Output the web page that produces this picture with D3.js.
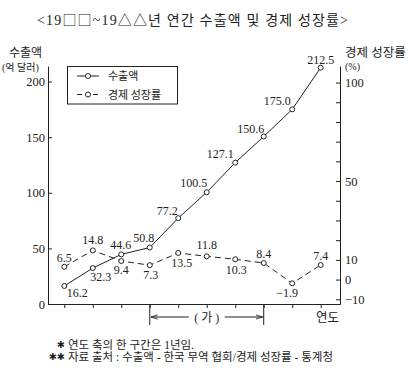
<!DOCTYPE html>
<html>
<head>
<meta charset="utf-8">
<script src="https://cdn.jsdelivr.net/npm/d3@7"></script>
<style>
  body { margin: 0; background: #fff; }
  svg { display: block; font-family: "Liberation Serif", "Noto Sans CJK KR", serif; }
</style>
</head>
<body>
<svg id="chart" width="417" height="371"></svg>
<script>
// data
var periods = [0, 1, 2, 3, 4, 5, 6, 7, 8, 9];
var exportsAmt = [16.2, 32.3, 44.6, 50.8, 77.2, 100.5, 127.1, 150.6, 175.0, 212.5];
var growth = [6.5, 14.8, 9.4, 7.3, 13.5, 11.8, 10.3, 8.4, -1.9, 7.4];
var leftTicks = [0, 50, 100, 150, 200];
var rightTicks = [-10, 0, 10, 20, 30, 40, 50, 60, 70, 80, 90, 100];
var rightLabeled = [-10, 0, 10, 50, 100];
var bracket = [3, 7];

// where each value label sits relative to its point
var exportOffsets = [[13, 11], [8, 13], [-0.5, -5.5], [-6, -6], [-11, -3.5], [-13, -5], [-15, -5], [-13, -4], [-15, -4], [0, -4]];
var growthOffsets = [[0, -5], [0, -6], [0, 13], [1, 14], [3.5, 13.6], [0, -7], [1, 15], [0, -5], [-5, 14], [0, -5]];

var ink = "#222";
var cjk = "Noto Sans CJK KR, sans-serif";
var svg = d3.select("#chart");
var fmt = d3.format(".1f");

var x = d3.scaleLinear().domain([-0.572, 9.678]).range([48, 340]);
var yL = d3.scaleLinear().domain([0, 214]).range([304, 66]);
var yR = d3.scaleLinear().domain([-12.4, 108.4]).range([304, 66]);

// title
var title = svg.append("text").attr("x", 37).attr("y", 25)
  .attr("textLength", 311).attr("lengthAdjust", "spacing")
  .style("font-size", "14px").attr("fill", ink);
[["<19", null], ["□□", cjk], ["~19", null], ["△△", cjk], ["년 연간 수출액 및 경제 성장률", null], [">", null]]
  .forEach(function(p){
    var t = title.append("tspan").text(p[0]);
    if (p[1]) t.style("font-family", p[1]);
  });

// axis titles
svg.append("text").attr("x", 9).attr("y", 57).style("font-size", "12px").attr("fill", ink).text("수출액");
svg.append("text").attr("x", 2).attr("y", 70.5).style("font-size", "10px").attr("fill", ink).text("(억 달러)");
svg.append("text").attr("x", 345).attr("y", 56.5).style("font-size", "12.5px").attr("fill", ink).text("경제 성장률");
svg.append("text").attr("x", 345).attr("y", 70).style("font-size", "10px").attr("fill", ink).text("(%)");

// axes
var gl = svg.append("g").attr("transform", "translate(48,0)")
  .call(d3.axisLeft(yL).tickValues(leftTicks).tickSize(-4).tickSizeOuter(0).tickPadding(3));
var gr = svg.append("g").attr("transform", "translate(340,0)")
  .call(d3.axisRight(yR).tickValues(rightTicks).tickSize(-4).tickSizeOuter(0).tickPadding(5)
    .tickFormat(function(d){ return rightLabeled.indexOf(d) >= 0 ? d3.format("d")(d) : ""; }));
var gb = svg.append("g").attr("transform", "translate(0,304)")
  .call(d3.axisBottom(x).tickValues(periods).tickSize(4).tickSizeOuter(0).tickFormat(""));

[gl, gr, gb].forEach(function(g){
  g.selectAll("path, line").attr("stroke", ink).attr("stroke-width", 1);
  g.selectAll("text").attr("fill", ink).style("font-size", "12.5px")
    .style("font-family", "Liberation Serif, serif");
});

// (가) bracket
bracket.forEach(function(p){
  svg.append("line").attr("x1", x(p)).attr("x2", x(p)).attr("y1", 304).attr("y2", 325)
    .attr("stroke", ink);
});
svg.append("defs").append("marker").attr("id", "arr").attr("viewBox", "0 0 10 10")
  .attr("refX", 10).attr("refY", 5).attr("markerWidth", 7).attr("markerHeight", 7)
  .attr("orient", "auto-start-reverse")
  .append("path").attr("d", "M0,2 L10,5 L0,8").attr("fill", "none").attr("stroke", ink).attr("stroke-width", 1.2);
var mid = (x(bracket[0]) + x(bracket[1])) / 2;
svg.append("line").attr("x1", mid - 18).attr("x2", x(bracket[0]) + 1).attr("y1", 317).attr("y2", 317)
  .attr("stroke", ink).attr("marker-end", "url(#arr)");
svg.append("line").attr("x1", mid + 18).attr("x2", x(bracket[1]) - 1).attr("y1", 317).attr("y2", 317)
  .attr("stroke", ink).attr("marker-end", "url(#arr)");
svg.append("text").attr("x", mid).attr("y", 322).attr("text-anchor", "middle")
  .style("font-size", "12px").attr("fill", ink).text("( 가 )");
svg.append("text").attr("x", 316).attr("y", 322).style("font-size", "12.5px").attr("fill", ink).text("연도");

// lines
var lineE = d3.line().x(function(d, i){ return x(periods[i]); }).y(function(d){ return yL(d); });
var lineG = d3.line().x(function(d, i){ return x(periods[i]); }).y(function(d){ return yR(d); });

svg.append("path").datum(exportsAmt).attr("d", lineE)
  .attr("fill", "none").attr("stroke", ink).attr("stroke-width", 1);
svg.append("path").datum(growth).attr("d", lineG)
  .attr("fill", "none").attr("stroke", ink).attr("stroke-width", 1).attr("stroke-dasharray", "6,4");

svg.selectAll(".pe").data(exportsAmt).enter().append("circle")
  .attr("cx", function(d, i){ return x(periods[i]); }).attr("cy", function(d){ return yL(d); })
  .attr("r", 2.5).attr("fill", "#fff").attr("stroke", ink);
svg.selectAll(".pg").data(growth).enter().append("circle")
  .attr("cx", function(d, i){ return x(periods[i]); }).attr("cy", function(d){ return yR(d); })
  .attr("r", 2.5).attr("fill", "#fff").attr("stroke", ink);

// value labels
svg.selectAll(".le").data(exportsAmt).enter().append("text")
  .attr("x", function(d, i){ return x(periods[i]) + exportOffsets[i][0]; })
  .attr("y", function(d, i){ return yL(d) + exportOffsets[i][1]; })
  .attr("text-anchor", "middle").style("font-size", "12px").attr("fill", ink)
  .text(function(d){ return fmt(d); });
svg.selectAll(".lg").data(growth).enter().append("text")
  .attr("x", function(d, i){ return x(periods[i]) + growthOffsets[i][0]; })
  .attr("y", function(d, i){ return yR(d) + growthOffsets[i][1]; })
  .attr("text-anchor", "middle").style("font-size", "12px").attr("fill", ink)
  .text(function(d){ return fmt(d); });

// legend
var lg = svg.append("g");
lg.append("rect").attr("x", 67.5).attr("y", 66.5).attr("width", 110).attr("height", 37.5)
  .attr("fill", "#fff").attr("stroke", ink);
[["수출액", null, 76], ["경제 성장률", "5,3", 94.5]].forEach(function(it){
  lg.append("line").attr("x1", 77).attr("x2", 99).attr("y1", it[2]).attr("y2", it[2])
    .attr("stroke", ink).attr("stroke-dasharray", it[1]);
  lg.append("circle").attr("cx", 88).attr("cy", it[2]).attr("r", 2.5).attr("fill", "#fff").attr("stroke", ink);
  lg.append("text").attr("x", 108).attr("y", it[2] + 4).style("font-size", "11px")
    .style("font-family", cjk).attr("fill", ink).text(it[0]);
});

// footnotes
var notes = [["✱", "연도 축의 한 구간은 1년임.", 349], ["✱✱", "자료 출처 : 수출액 - 한국 무역 협회/경제 성장률 - 통계청", 361]];
notes.forEach(function(n){
  svg.append("text").attr("x", 65).attr("y", n[2] - 1).attr("text-anchor", "end")
    .style("font-size", "9.5px").style("font-family", "DejaVu Sans, sans-serif").attr("fill", ink).text(n[0]);
  svg.append("text").attr("x", 68).attr("y", n[2]).style("font-size", "11.5px").attr("fill", ink).text(n[1]);
});
</script>
</body>
</html>
